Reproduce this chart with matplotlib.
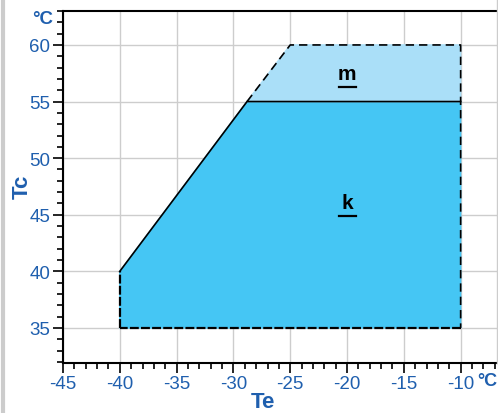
import matplotlib
matplotlib.use("Agg")
from matplotlib import pyplot as plt
from matplotlib.ticker import MultipleLocator

# envelope corners (Te, Tc)
k_te = [-40, -40, -28.8, -10, -10]
k_tc = [35, 40, 55, 55, 35]
m_te = [-28.8, -25, -10, -10]
m_tc = [55, 60, 60, 55]
labels = ["k", "m"]
label_te = [-20, -20]
label_tc = [46.1, 57.5]
x_ticks = [-45, -40, -35, -30, -25, -20, -15, -10]
y_ticks = [35, 40, 45, 50, 55, 60]

plt.rcParams["font.family"] = ["Liberation Sans", "DejaVu Sans"]

blue = "#1f5fae"

fig = plt.figure(figsize=(4.98, 4.14), dpi=100)
ax = fig.add_axes([63 / 498, 1 - 364 / 414, 434 / 498, 352 / 414])

ax.fill(k_te, k_tc, color="#45c6f4", zorder=2)
ax.fill(m_te, m_tc, color="#aadff8", zorder=2)

# solid borders
ax.plot(k_te[1:4], k_tc[1:4], color="black", lw=1.2, zorder=3)
# dashed borders
ax.plot([k_te[0], k_te[1]], [k_tc[0], k_tc[1]], color="black", lw=1.6, ls=(0, (4, 1)), zorder=3)
ax.plot([k_te[4], k_te[0]], [k_tc[4], k_tc[0]], color="black", lw=1.6, ls=(0, (4, 1)), zorder=3)
ax.plot([m_te[0], m_te[1], m_te[2], m_te[2], k_te[4]], [m_tc[0], m_tc[1], m_tc[2], m_tc[3], k_tc[4]],
        color="black", lw=1.2, ls=(0, (5, 3)), zorder=3)

for lab, x, y in zip(labels, label_te, label_tc):
    ax.text(x, y, lab, ha="center", va="center", fontsize=15, fontweight="bold", zorder=4)
    ax.plot([x - 0.75, x + 0.75], [y - 1.2, y - 1.2], color="black", lw=1.6, zorder=4)

ax.set_xlim(-45, -6.8)
ax.set_ylim(31.9, 63)
ax.set_xticks(x_ticks)
ax.set_yticks(y_ticks)
ax.set_xticklabels([str(t) for t in x_ticks])
ax.set_yticklabels([str(t) for t in y_ticks])
ax.xaxis.set_minor_locator(MultipleLocator(1))
ax.yaxis.set_minor_locator(MultipleLocator(1))
ax.tick_params(which="major", length=7, width=1.2, color="black", labelcolor=blue, labelsize=13.5, pad=2)
ax.tick_params(which="minor", length=4, width=1.2, color="black")
ax.grid(True, which="major", color="#cdcdcd", lw=1, zorder=0)
ax.set_axisbelow(True)

ax.spines["right"].set_visible(False)
ax.spines["top"].set_linewidth(1.5)
ax.spines["left"].set_linewidth(1.5)
ax.spines["bottom"].set_linewidth(1.5)

fig.text(22 / 498, 1 - 187 / 414, "Tc", rotation=90, ha="center", va="center",
         color=blue, fontsize=16, fontweight="bold")
fig.text(263 / 498, 1 - 403 / 414, "Te", ha="center", va="center",
         color=blue, fontsize=16, fontweight="bold")
fig.text(43 / 498, 1 - 19 / 414, "°C", ha="center", va="center",
         color=blue, fontsize=13.5, fontweight="bold")
fig.text(497 / 498, 1 - 382 / 414, "°C", ha="right", va="center",
         color=blue, fontsize=13, fontweight="bold")

# light grey frame lines at the image edges
fig.add_artist(plt.Line2D([3 / 498, 3 / 498], [0, 1], color="#cccccc", lw=3))
fig.add_artist(plt.Line2D([497 / 498, 497 / 498], [1 - 364 / 414, 1], color="#cccccc", lw=1))

fig.savefig("out.png", dpi=100)
